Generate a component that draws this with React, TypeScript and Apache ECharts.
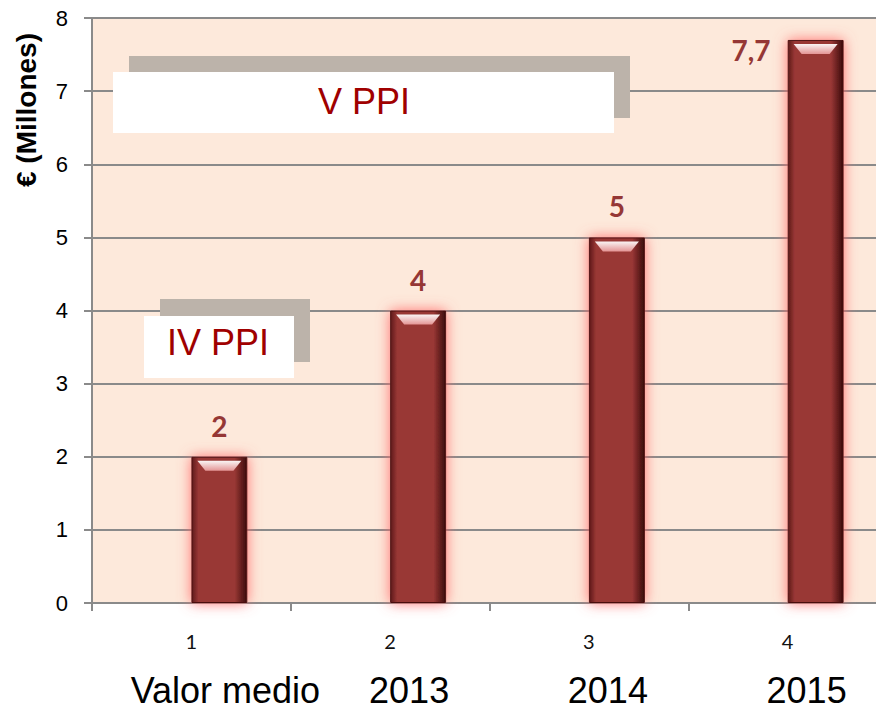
import React, { useEffect, useRef } from "react";
import * as echarts from "echarts";

const categories = ["1", "2", "3", "4"];
const bottomLabels = ["Valor medio", "2013", "2014", "2015"];
const values = [2, 4, 5, 7.7];
const valueLabels = ["2", "4", "5", "7,7"];
const yAxisName = "€ (Millones)";
const noteTop = "V PPI";
const noteBottom = "IV PPI";

export default function App() {
  const ref = useRef<HTMLDivElement>(null);
  useEffect(() => {
    if (!ref.current) return;
    const chart = echarts.init(ref.current, null, { renderer: "svg" });
    const gray = "#8a8a8a";
    const barFill = new echarts.graphic.LinearGradient(0, 0, 1, 0, [
      { offset: 0, color: "#5e1a1a" },
      { offset: 0.12, color: "#993735" },
      { offset: 0.78, color: "#993735" },
      { offset: 1, color: "#3a0b0b" },
    ]);
    const hlFill = new echarts.graphic.LinearGradient(0, 0, 0, 1, [
      { offset: 0, color: "#ffffff" },
      { offset: 1, color: "#e89a9a" },
    ]);
    const last = values.length - 1;
    chart.setOption({
      animation: false,
      backgroundColor: "#ffffff",
      grid: {
        left: 92,
        top: 18,
        right: 13,
        bottom: 107,
        show: true,
        backgroundColor: "#fde9db",
        borderWidth: 0,
      },
      xAxis: [
        {
          type: "category",
          data: categories,
          axisLine: { lineStyle: { color: gray, width: 2 } },
          axisTick: { show: true, length: 8, lineStyle: { color: gray, width: 2 } },
          axisLabel: {
            margin: 28,
            fontSize: 20,
            fontFamily: "Lato",
            color: "#111",
            interval: 0,
          },
        },
        {
          type: "category",
          data: bottomLabels,
          position: "bottom",
          axisLine: { show: false },
          axisTick: { show: false },
          axisLabel: {
            interval: 0,
            margin: 69,
            fontSize: 36,
            fontFamily: "Liberation Sans",
            color: "#000",
            formatter: (v: string, i: number) => (i === 0 ? "{w|" + v + "}" : "{n|" + v + "}"),
            rich: {
              w: { fontSize: 36, fontFamily: "Liberation Sans", color: "#000", padding: [0, 0, 0, 68] },
              n: { fontSize: 36, fontFamily: "Liberation Sans", color: "#000", padding: [0, 0, 0, 38] },
            },
          },
        },
      ],
      yAxis: {
        type: "value",
        min: 0,
        max: 8,
        interval: 1,
        axisLine: { show: true, lineStyle: { color: gray, width: 2 } },
        axisTick: { show: true, length: 8, lineStyle: { color: gray, width: 2 } },
        splitLine: { show: true, lineStyle: { color: gray, width: 2 } },
        axisLabel: {
          margin: 24,
          fontSize: 22,
          fontFamily: "Liberation Sans",
          color: "#000",
        },
      },
      series: [
        {
          type: "bar",
          data: categories.map(() => "-"),
          barWidth: 56,
          barGap: "0%",
        },
        {
          type: "bar",
          barWidth: 56,
          barGap: "0%",
          data: values.map((v, i) =>
            i === last
              ? {
                  value: v,
                  label: { position: [-17, -4], align: "right", verticalAlign: "top" },
                }
              : v
          ),
          itemStyle: {
            color: barFill,
            borderColor: "#4a1010",
            borderWidth: 1,
            shadowBlur: 14,
            shadowColor: "rgba(255,105,105,0.95)",
          },
          label: {
            show: true,
            position: "top",
            distance: 17,
            color: "#953735",
            fontSize: 28,
            fontWeight: "bold",
            fontFamily: "Lato",
            formatter: (p: any) => valueLabels[p.dataIndex],
          },
          z: 3,
        },
        {
          type: "pictorialBar",
          data: values,
          symbol: "path://M0,0 L44,0 L36,10 L8,10 Z",
          symbolSize: [44, 10],
          symbolPosition: "end",
          symbolOffset: [28, 4],
          itemStyle: { color: hlFill, opacity: 0.95 },
          z: 4,
        },
      ],
      graphic: [
        {
          type: "text",
          x: 26,
          y: 110,
          rotation: Math.PI / 2,
          style: {
            text: yAxisName,
            fontSize: 28,
            fontWeight: "bold",
            fontFamily: "Liberation Sans",
            fill: "#000",
            align: "center",
            verticalAlign: "middle",
          },
        },
        { type: "rect", shape: { x: 129, y: 56, width: 501, height: 62 }, style: { fill: "#bcb3aa" }, z: 10 },
        { type: "rect", shape: { x: 113, y: 72, width: 501, height: 61 }, style: { fill: "#ffffff" }, z: 11 },
        {
          type: "text",
          x: 364,
          y: 101,
          style: { text: noteTop, fontSize: 36, fontFamily: "Liberation Sans", fill: "#a00000", align: "center", verticalAlign: "middle" },
          z: 12,
        },
        { type: "rect", shape: { x: 160, y: 299, width: 150, height: 63 }, style: { fill: "#bcb3aa" }, z: 10 },
        { type: "rect", shape: { x: 144, y: 316, width: 150, height: 62 }, style: { fill: "#ffffff" }, z: 11 },
        {
          type: "text",
          x: 218,
          y: 342,
          style: { text: noteBottom, fontSize: 36, fontFamily: "Liberation Sans", fill: "#a00000", align: "center", verticalAlign: "middle" },
          z: 12,
        },
      ],
    });
    return () => chart.dispose();
  }, []);
  return (
    <div
      ref={ref}
      style={{ position: "fixed", left: 0, top: 0, width: 900, height: 710 }}
    />
  );
}
